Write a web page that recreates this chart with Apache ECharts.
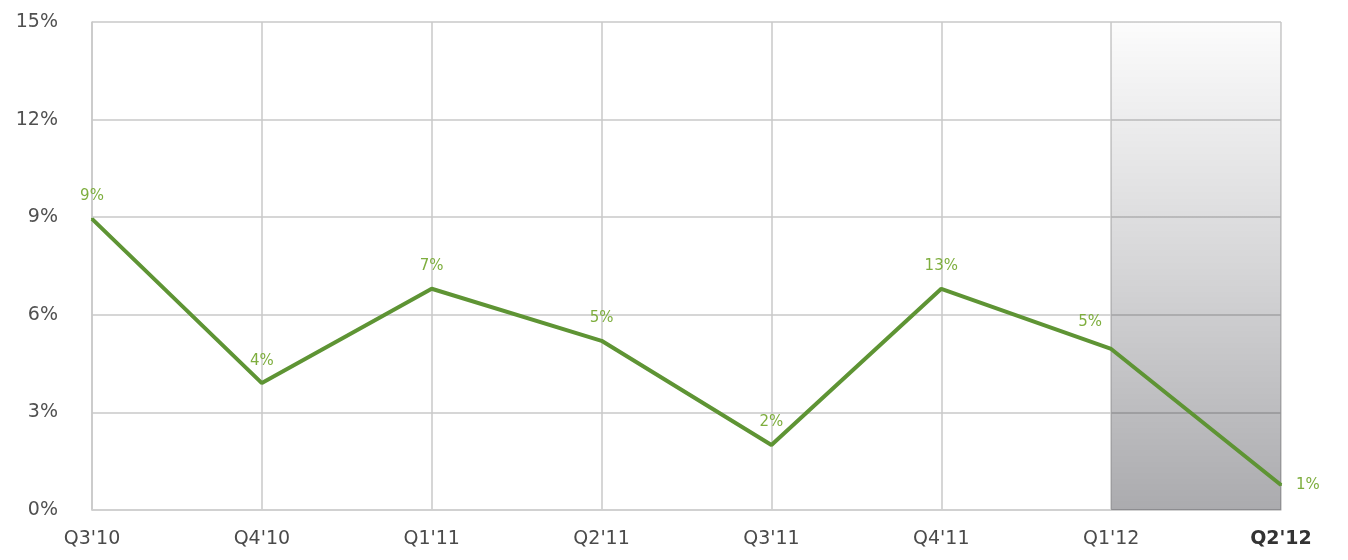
<!DOCTYPE html>
<html>
<head>
<meta charset="utf-8">
<script src="https://cdn.jsdelivr.net/npm/echarts@6/dist/echarts.min.js"></script>
<style>html,body{margin:0;padding:0;background:#fff;}#c{width:1348px;height:560px;}</style>
</head>
<body>
<div id="c"></div>
<script>
var categories = ["Q3'10", "Q4'10", "Q1'11", "Q2'11", "Q3'11", "Q4'11", "Q1'12", "Q2'12"];
var values = [8.95, 3.9, 6.8, 5.2, 2.0, 6.8, 4.95, 0.77];
var pointLabels = ["9%", "4%", "7%", "5%", "2%", "13%", "5%", "1%"];
var yTicks = [0, 3, 6, 9, 12, 15];
var shadeFrom = "Q1'12";
var shadeTo = "Q2'12";

var chart = echarts.init(document.getElementById('c'));
var data = values.map(function (v, i) {
  var d = { value: v, label: { formatter: pointLabels[i] } };
  if (i === values.length - 1) d.label.position = 'right';
  if (i === values.length - 2) d.label.offset = [-21, -4];
  return d;
});
var FONT = 'DejaVu Sans';
chart.setOption({
  animation: false,
  grid: { left: 92, right: 67, top: 22, bottom: 50 },
  xAxis: {
    type: 'category',
    data: categories,
    boundaryGap: false,
    axisLine: { show: true, lineStyle: { color: '#d0d0d0', width: 1.5 } },
    axisTick: { show: false },
    splitLine: { show: true, lineStyle: { color: '#c8c8c8', width: 1.5 } },
    axisLabel: {
      margin: 20,
      fontFamily: FONT, fontSize: 19, color: '#4a4a4a',
      formatter: function (v, i) { return i === categories.length - 1 ? '{b|' + v + '}' : v; },
      rich: { b: { fontFamily: FONT, fontSize: 19, fontWeight: 'bold', color: '#333' } }
    }
  },
  yAxis: {
    type: 'value',
    min: yTicks[0], max: yTicks[yTicks.length - 1], interval: 3,
    axisLine: { show: true, lineStyle: { color: '#c8c8c8', width: 1.5 } },
    axisTick: { show: false },
    splitLine: { show: true, lineStyle: { color: '#c8c8c8', width: 1.5 } },
    axisLabel: { margin: 34, fontFamily: FONT, fontSize: 19, color: '#505050', formatter: '{value}%' }
  },
  series: [
    {
      type: 'line', data: [], silent: true,
      markArea: {
        silent: true,
        itemStyle: {
          color: new echarts.graphic.LinearGradient(0, 0, 0, 1, [
            { offset: 0, color: 'rgba(0,0,10,0.01)' },
            { offset: 0.5, color: 'rgba(0,0,10,0.16)' },
            { offset: 1, color: 'rgba(0,0,10,0.33)' }
          ])
        },
        data: [[{ xAxis: shadeFrom }, { xAxis: shadeTo }]]
      }
    },
    {
      type: 'line',
      data: data,
      symbol: 'circle', symbolSize: 2,
      itemStyle: { color: '#5e9434' },
      lineStyle: { color: '#5e9434', width: 4 },
      label: { show: true, position: 'top', distance: 14, fontFamily: FONT, fontSize: 15, color: '#7eae3e' }
    }
  ]
});
</script>
</body>
</html>
